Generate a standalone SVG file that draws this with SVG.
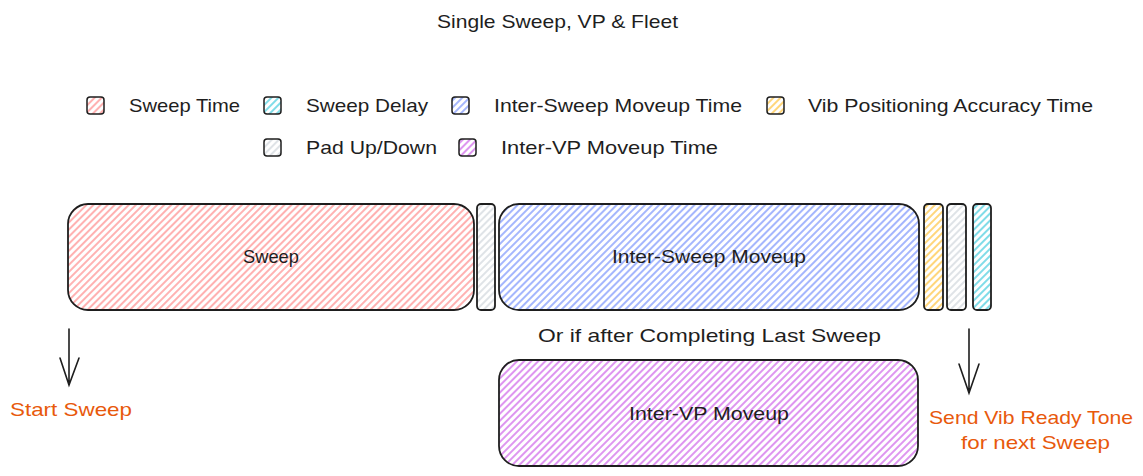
<svg xmlns="http://www.w3.org/2000/svg" width="1143" height="476" viewBox="0 0 1143 476">
<defs>
<pattern id="h-red" patternUnits="userSpaceOnUse" width="5" height="5" patternTransform="rotate(45)"><line x1="1" y1="0" x2="1" y2="5" stroke="#ff8787" stroke-width="1.3"/></pattern>
<pattern id="h-blue" patternUnits="userSpaceOnUse" width="5" height="5" patternTransform="rotate(45)"><line x1="1" y1="0" x2="1" y2="5" stroke="#748ffc" stroke-width="1.3"/></pattern>
<pattern id="h-cyan" patternUnits="userSpaceOnUse" width="5" height="5" patternTransform="rotate(45)"><line x1="1" y1="0" x2="1" y2="5" stroke="#3bc9db" stroke-width="1.3"/></pattern>
<pattern id="h-orange" patternUnits="userSpaceOnUse" width="5" height="5" patternTransform="rotate(45)"><line x1="1" y1="0" x2="1" y2="5" stroke="#ffc034" stroke-width="1.3"/></pattern>
<pattern id="h-gray" patternUnits="userSpaceOnUse" width="5" height="5" patternTransform="rotate(45)"><line x1="1" y1="0" x2="1" y2="5" stroke="#ced4da" stroke-width="1.3"/></pattern>
<pattern id="h-purple" patternUnits="userSpaceOnUse" width="5" height="5" patternTransform="rotate(45)"><line x1="1" y1="0" x2="1" y2="5" stroke="#cc5de8" stroke-width="1.3"/></pattern>
</defs>
<style>
text{font-family:"Liberation Sans",Arial,sans-serif;fill:#1e1e1e}
.lg{font-size:19px}
.lbl{font-size:19px;text-anchor:middle}
.note{font-size:19px;fill:#e8590c}
.box{stroke:#1e1e1e;stroke-width:1.8}
.sw{stroke:#1e1e1e;stroke-width:1.5}
.arrow{stroke:#1e1e1e;stroke-width:1.6;fill:none;stroke-linecap:round}
</style>
<rect width="1143" height="476" fill="#ffffff"/>
<g id="title"><text x="437" y="28" class="lg" textLength="241" lengthAdjust="spacingAndGlyphs">Single Sweep, VP &amp; Fleet</text></g>
<g id="legend">
<rect class="sw" x="87" y="97" width="17" height="17" rx="3" fill="url(#h-red)"/>
<text class="lg" x="129" y="112" textLength="111" lengthAdjust="spacingAndGlyphs">Sweep Time</text>
<rect class="sw" x="264" y="97" width="17" height="17" rx="3" fill="url(#h-cyan)"/>
<text class="lg" x="306" y="112" textLength="122" lengthAdjust="spacingAndGlyphs">Sweep Delay</text>
<rect class="sw" x="452" y="97" width="17" height="17" rx="3" fill="url(#h-blue)"/>
<text class="lg" x="494" y="112" textLength="248" lengthAdjust="spacingAndGlyphs">Inter-Sweep Moveup Time</text>
<rect class="sw" x="767" y="97" width="17" height="17" rx="3" fill="url(#h-orange)"/>
<text class="lg" x="808" y="112" textLength="285" lengthAdjust="spacingAndGlyphs">Vib Positioning Accuracy Time</text>
<rect class="sw" x="264" y="139" width="17" height="17" rx="3" fill="url(#h-gray)"/>
<text class="lg" x="306" y="154" textLength="131" lengthAdjust="spacingAndGlyphs">Pad Up/Down</text>
<rect class="sw" x="459" y="139" width="17" height="17" rx="3" fill="url(#h-purple)"/>
<text class="lg" x="501" y="154" textLength="217" lengthAdjust="spacingAndGlyphs">Inter-VP Moveup Time</text>
</g>
<g id="sweep">
<rect class="box" x="68" y="204" width="406" height="106" rx="20" fill="url(#h-red)"/>
<text class="lg" x="243" y="263" textLength="56" lengthAdjust="spacingAndGlyphs">Sweep</text>
</g>
<g id="pad1"><rect class="box" x="477" y="204" width="18" height="106" rx="4" fill="url(#h-gray)"/></g>
<g id="inter-sweep">
<rect class="box" x="499" y="204" width="420" height="106" rx="20" fill="url(#h-blue)"/>
<text class="lg" x="612" y="263" textLength="194" lengthAdjust="spacingAndGlyphs">Inter-Sweep Moveup</text>
</g>
<g id="vib-acc"><rect class="box" x="924" y="204" width="19" height="106" rx="4" fill="url(#h-orange)"/></g>
<g id="pad2"><rect class="box" x="947" y="204" width="19" height="106" rx="4" fill="url(#h-gray)"/></g>
<g id="delay"><rect class="box" x="973" y="204" width="18" height="106" rx="4" fill="url(#h-cyan)"/></g>
<g id="or-note"><text class="lg" x="538" y="342" textLength="343" lengthAdjust="spacingAndGlyphs">Or if after Completing Last Sweep</text></g>
<g id="inter-vp">
<rect class="box" x="499" y="360" width="419" height="106" rx="20" fill="url(#h-purple)"/>
<text class="lg" x="629" y="420" textLength="160" lengthAdjust="spacingAndGlyphs">Inter-VP Moveup</text>
</g>
<g id="connectors">
<path class="arrow" d="M69 329 L69 385 M60 358 L69 385 L79 358"/>
<path class="arrow" d="M969 329 L969 393 M959 364 L969 393 L979 364"/>
</g>
<g id="start-note"><text class="note" x="10" y="416" textLength="122" lengthAdjust="spacingAndGlyphs">Start Sweep</text></g>
<g id="ready-note">
<text class="note" x="929" y="424" textLength="204" lengthAdjust="spacingAndGlyphs">Send Vib Ready Tone</text>
<text class="note" x="961" y="449" textLength="149" lengthAdjust="spacingAndGlyphs">for next Sweep</text>
</g>
</svg>
